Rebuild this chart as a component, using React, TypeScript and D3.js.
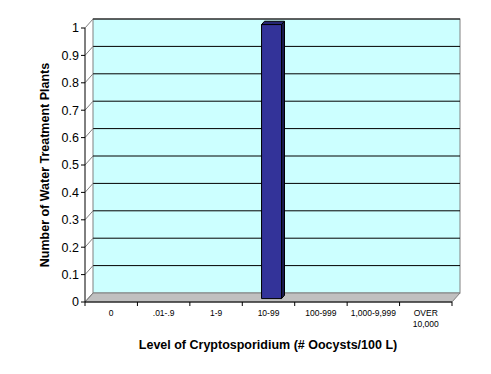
import React from "react";
import * as d3 from "d3";

const categories = ["0", ".01-.9", "1-9", "10-99", "100-999", "1,000-9,999", "OVER\n10,000"];
const values = [0, 0, 0, 1, 0, 0, 0];
const yTicks = [0, 0.1, 0.2, 0.3, 0.4, 0.5, 0.6, 0.7, 0.8, 0.9, 1];
const yTickLabels = ["0", "0.1", "0.2", "0.3", "0.4", "0.5", "0.6", "0.7", "0.8", "0.9", "1"];

const W = 491, H = 374;
const X0 = 85, X1 = 452, Y0 = 302, Y1 = 28;
const DX = 8, DY = -9;

export default function App() {
  const x = d3.scaleBand<string>().domain(categories).range([X0, X1]);
  const y = d3.scaleLinear().domain([0, 1]).range([Y0, Y1]);
  const font = "Arial, 'Liberation Sans', sans-serif";
  const bw = 20;
  const f1 = 0.38, f2 = 0.75;
  return (
    <svg width={W} height={H} style={{ position: "absolute", left: 0, top: 0 }} fontFamily={font}>
      <rect x={0} y={0} width={W} height={H} fill="#fff" />
      {/* left wall */}
      <polygon points={`${X0},${Y0} ${X0},${Y1} ${X0 + DX},${Y1 + DY} ${X0 + DX},${Y0 + DY}`} fill="#fff" />
      {/* back wall */}
      <rect x={X0 + DX} y={Y1 + DY} width={X1 - X0} height={Y0 - Y1} fill="#CCFFFF" stroke="#808080" strokeWidth={1} />
      {/* floor */}
      <polygon points={`${X0},${Y0} ${X1},${Y0} ${X1 + DX},${Y0 + DY} ${X0 + DX},${Y0 + DY}`} fill="#C0C0C0" stroke="#808080" strokeWidth={1} />
      {/* gridlines */}
      {yTicks.map((t, i) => (
        <g key={i}>
          {t > 0 && (
            <line x1={X0 + DX} x2={X1 + DX} y1={y(t) + DY} y2={y(t) + DY} stroke="#000" strokeWidth={1} />
          )}
          <line x1={X0} x2={X0 + DX} y1={y(t)} y2={y(t) + DY} stroke="#808080" strokeWidth={1} />
          <line x1={X0 - 4} x2={X0} y1={y(t)} y2={y(t)} stroke="#000" strokeWidth={1} />
          <text x={X0 - 6} y={y(t)} dy="0.35em" textAnchor="end" fontSize={12.5}>{yTickLabels[i]}</text>
        </g>
      ))}
      {/* y axis */}
      <line x1={X0} x2={X0} y1={Y1} y2={Y0} stroke="#000" strokeWidth={1} />
      {/* x axis */}
      <line x1={X0} x2={X1} y1={Y0} y2={Y0} stroke="#000" strokeWidth={1} />
      {categories.map((c, i) => (
        <line key={"t" + i} x1={x(c)!} x2={x(c)!} y1={Y0} y2={Y0 + 4} stroke="#000" strokeWidth={1} />
      ))}
      <line x1={X1} x2={X1} y1={Y0} y2={Y0 + 4} stroke="#000" strokeWidth={1} />
      {categories.map((c, i) => {
        const lines = c.split("\n");
        return (
          <text key={"l" + i} x={x(c)! + x.bandwidth() / 2} y={316} textAnchor="middle" fontSize={8.5}>
            {lines.map((l, j) => (
              <tspan key={j} x={x(c)! + x.bandwidth() / 2} dy={j === 0 ? 0 : 10.5}>{l}</tspan>
            ))}
          </text>
        );
      })}
      {/* bars */}
      {categories.map((c, i) => {
        const v = values[i];
        if (v <= 0) return null;
        const cx = x(c)! + x.bandwidth() / 2;
        const ox1 = DX * f1, oy1 = DY * f1, ox2 = DX * f2, oy2 = DY * f2;
        const l = cx - bw / 2 + ox1, r = cx + bw / 2 + ox1;
        const t = y(v) + oy1, b = y(0) + oy1;
        const dxs = ox2 - ox1, dys = oy2 - oy1;
        return (
          <g key={"b" + i} stroke="#000" strokeWidth={1} strokeLinejoin="round">
            <polygon points={`${l},${t} ${r},${t} ${r + dxs},${t + dys} ${l + dxs},${t + dys}`} fill="#262673" />
            <polygon points={`${r},${t} ${r + dxs},${t + dys} ${r + dxs},${b + dys} ${r},${b}`} fill="#1a1a4d" />
            <rect x={l} y={t} width={r - l} height={b - t} fill="#333399" />
          </g>
        );
      })}
      <text x={268} y={349} textAnchor="middle" fontSize={12.5} fontWeight="bold">Level of Cryptosporidium (# Oocysts/100 L)</text>
      <text transform={`translate(49,165) rotate(-90)`} textAnchor="middle" fontSize={12.5} fontWeight="bold">Number of Water Treatment Plants</text>
    </svg>
  );
}
